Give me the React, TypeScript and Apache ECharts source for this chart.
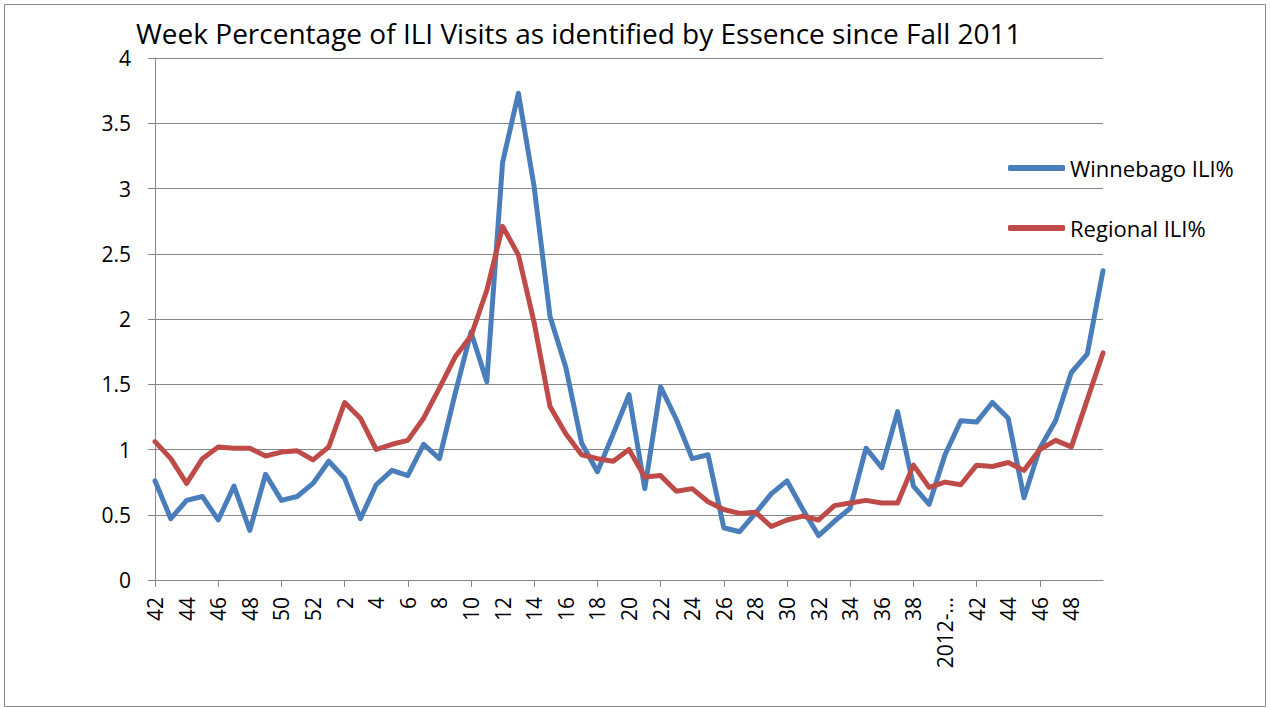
import React, { useEffect, useRef } from "react";
import * as echarts from "echarts";

const titleText = "Week Percentage of ILI Visits as identified by Essence since Fall 2011";

const weekLabels: string[] = [
  "42", "43", "44", "45", "46", "47", "48", "49", "50", "51", "52",
  "1", "2", "3", "4", "5", "6", "7", "8", "9", "10",
  "11", "12", "13", "14", "15", "16", "17", "18", "19", "20",
  "21", "22", "23", "24", "25", "26", "27", "28", "29", "30",
  "31", "32", "33", "34", "35", "36", "37", "38", "39", "2012-...",
  "41", "42", "43", "44", "45", "46", "47", "48", "49", "50",
];

const winnebagoILI: number[] = [
  0.76, 0.47, 0.61, 0.64, 0.46, 0.72, 0.38, 0.81, 0.61, 0.64, 0.74,
  0.91, 0.78, 0.47, 0.73, 0.84, 0.80, 1.04, 0.93, 1.43, 1.90,
  1.52, 3.20, 3.73, 3.01, 2.02, 1.63, 1.05, 0.83, 1.12, 1.42,
  0.70, 1.48, 1.23, 0.93, 0.96, 0.40, 0.37, 0.51, 0.66, 0.76,
  0.54, 0.34, 0.45, 0.55, 1.01, 0.86, 1.29, 0.72, 0.58, 0.96,
  1.22, 1.21, 1.36, 1.24, 0.63, 1.01, 1.22, 1.59, 1.73, 2.37,
];

const regionalILI: number[] = [
  1.06, 0.93, 0.74, 0.93, 1.02, 1.01, 1.01, 0.95, 0.98, 0.99, 0.92,
  1.02, 1.36, 1.24, 1.00, 1.04, 1.07, 1.24, 1.47, 1.71, 1.87,
  2.22, 2.71, 2.49, 1.97, 1.33, 1.12, 0.96, 0.93, 0.91, 1.00,
  0.79, 0.80, 0.68, 0.70, 0.60, 0.54, 0.51, 0.52, 0.41, 0.46,
  0.49, 0.46, 0.57, 0.59, 0.61, 0.59, 0.59, 0.88, 0.71, 0.75,
  0.73, 0.88, 0.87, 0.90, 0.84, 1.00, 1.07, 1.02, 1.38, 1.74,
];

const seriesNames = ["Winnebago ILI%", "Regional ILI%"];
const seriesColors = ["#4A7EBB", "#BE4B48"];

const FONT = "'Open Sans', Lato, sans-serif";
const GRID_COLOR = "#868686";

export default function App() {
  const ref = useRef<HTMLDivElement>(null);

  useEffect(() => {
    document.body.style.margin = "0";
    if (!ref.current) return;
    const chart = echarts.init(ref.current, null, { renderer: "svg" });
    chart.setOption({
      animation: false,
      backgroundColor: "#ffffff",
      title: {
        text: titleText,
        left: 131,
        top: 14,
        textStyle: { fontFamily: FONT, fontSize: 28, fontWeight: "normal", color: "#000" },
      },
      legend: {
        orient: "vertical",
        left: 1003,
        top: 151,
        itemGap: 36,
        itemWidth: 57,
        itemHeight: 6,
        icon: "roundRect",
        data: seriesNames,
        textStyle: { fontFamily: FONT, fontSize: 22, color: "#000", lineHeight: 24 },
      },
      grid: {
        left: 155,
        top: 58,
        width: 948,
        height: 522,
        outerBoundsMode: "none",
        containLabel: false,
      },
      xAxis: {
        type: "category",
        data: weekLabels,
        boundaryGap: false,
        axisLine: { show: true, lineStyle: { color: GRID_COLOR, width: 1 } },
        axisTick: { show: true, interval: 3, length: 7, lineStyle: { color: GRID_COLOR, width: 1 } },
        axisLabel: {
          interval: 1,
          rotate: 90,
          margin: 17,
          showMaxLabel: false,
          fontFamily: FONT,
          fontSize: 21,
          color: "#000",
        },
        splitLine: { show: false },
      },
      yAxis: {
        type: "value",
        min: 0,
        max: 4,
        interval: 0.5,
        axisLine: { show: true, lineStyle: { color: GRID_COLOR, width: 1 } },
        axisTick: { show: true, length: 7, lineStyle: { color: GRID_COLOR, width: 1 } },
        axisLabel: { margin: 24, fontFamily: FONT, fontSize: 21, color: "#000" },
        splitLine: { show: true, lineStyle: { color: GRID_COLOR, width: 1 } },
      },
      series: [
        {
          name: seriesNames[0],
          type: "line",
          data: winnebagoILI,
          showSymbol: false,
          symbol: "none",
          color: seriesColors[0],
          lineStyle: { width: 5, color: seriesColors[0], join: "round", cap: "round" },
        },
        {
          name: seriesNames[1],
          type: "line",
          data: regionalILI,
          showSymbol: false,
          symbol: "none",
          color: seriesColors[1],
          lineStyle: { width: 5, color: seriesColors[1], join: "round", cap: "round" },
        },
      ],
      graphic: [
        {
          type: "rect",
          shape: { x: 4.5, y: 4.5, width: 1261, height: 702 },
          style: { fill: "none", stroke: "#8a8a8a", lineWidth: 1 },
          silent: true,
        },
      ],
    });
    return () => chart.dispose();
  }, []);

  return <div ref={ref} style={{ width: 1270, height: 708 }} />;
}
